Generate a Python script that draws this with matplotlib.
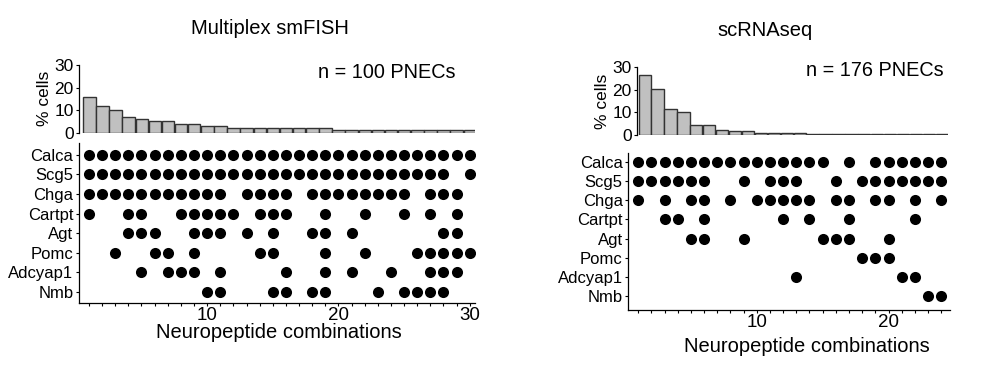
import numpy as np
import matplotlib
matplotlib.use("Agg")
import matplotlib.pyplot as plt
from matplotlib.ticker import MultipleLocator

plt.rcParams['font.family'] = ['Liberation Sans', 'DejaVu Sans']

# 공통: 뉴로펩타이드 이름 (위 -> 아래)
genes = ['Calca', 'Scg5', 'Chga', 'Cartpt', 'Agt', 'Pomc', 'Adcyap1', 'Nmb']

# ── Multiplex smFISH (n = 100) ──
fish_pct = [16, 12, 10, 7, 6, 5, 5, 4, 4, 3, 3, 2, 2, 2, 2, 2, 2, 2, 2,
            1, 1, 1, 1, 1, 1, 1, 1, 1, 1, 1]
fish_members = {
    'Calca': [1, 2, 3, 4, 5, 6, 7, 8, 9, 10, 11, 12, 13, 14, 15, 16, 17, 18, 19, 20,
              21, 22, 23, 24, 25, 26, 27, 28, 29, 30],
    'Scg5': [1, 2, 3, 4, 5, 6, 7, 8, 9, 10, 11, 12, 13, 14, 15, 16, 17, 18, 19, 20,
             21, 22, 23, 24, 25, 26, 27, 28, 30],
    'Chga': [1, 2, 3, 4, 5, 6, 7, 8, 9, 10, 11, 13, 14, 15, 16, 18, 19, 20, 21, 22,
             23, 24, 25, 27, 28, 29],
    'Cartpt': [1, 4, 5, 8, 9, 10, 11, 12, 14, 15, 16, 19, 22, 25, 27, 29],
    'Agt': [4, 5, 6, 9, 10, 11, 13, 15, 18, 19, 21, 28, 29],
    'Pomc': [3, 6, 7, 9, 14, 15, 19, 22, 26, 27, 28, 29, 30],
    'Adcyap1': [5, 7, 8, 9, 11, 16, 19, 21, 24, 27, 28, 29],
    'Nmb': [10, 11, 15, 16, 18, 19, 23, 25, 26, 27, 28],
}

# ── scRNAseq (n = 176) ──
sc_pct = [26.7, 20.5, 11.4, 10.2, 4.5, 4.5, 2.3, 1.7, 1.7, 1.1, 1.1, 1.1, 1.1,
          0.57, 0.57, 0.57, 0.57, 0.57, 0.57, 0.57, 0.57, 0.57, 0.57, 0.57]
sc_members = {
    'Calca': [1, 2, 3, 4, 5, 6, 7, 8, 9, 10, 11, 12, 13, 14, 15, 17, 19, 20, 21, 22, 23, 24],
    'Scg5': [1, 2, 3, 4, 5, 6, 9, 11, 12, 13, 16, 18, 19, 20, 21, 22, 23, 24],
    'Chga': [1, 3, 5, 6, 8, 10, 11, 12, 13, 14, 16, 17, 19, 20, 22, 24],
    'Cartpt': [3, 4, 6, 12, 14, 17, 22],
    'Agt': [5, 6, 9, 15, 16, 17, 20],
    'Pomc': [18, 19, 20],
    'Adcyap1': [13, 21, 22],
    'Nmb': [23, 24],
}

BAR_FACE = '#c0c0c0'
BAR_EDGE = '#333333'
W, H = 999, 369


def fig_rect(x0, y0, x1, y1):
    """픽셀 좌표(위가 0) -> figure 비율 [left, bottom, width, height]"""
    return [x0 / W, 1 - y1 / H, (x1 - x0) / W, (y1 - y0) / H]


def style_axis(ax):
    for s in ['top', 'right']:
        ax.spines[s].set_visible(False)
    for s in ['left', 'bottom']:
        ax.spines[s].set_linewidth(0.9)
    ax.tick_params(direction='out', length=2.5, width=0.8, pad=1.5)


def draw_bars(ax, pct, xlim):
    x = np.arange(1, len(pct) + 1)
    ax.bar(x, pct, width=0.95, color=BAR_FACE, edgecolor=BAR_EDGE, linewidth=1.0)
    style_axis(ax)
    ax.spines['bottom'].set_visible(False)
    ax.set_xlim(*xlim)
    ax.set_ylim(0, 30)
    ax.set_yticks([0, 10, 20, 30])
    ax.set_xticks([])
    ax.tick_params(axis='y', labelsize=12.5)
    ax.set_ylabel('% cells', fontsize=12.5, labelpad=2)


def draw_matrix(ax, members, xlim, ylim, major):
    n = len(genes)
    for i, g in enumerate(genes):
        cols = members[g]
        ax.plot(cols, [n - i] * len(cols), 'o', color='black',
                markersize=8.0, markeredgewidth=0)
    style_axis(ax)
    ax.set_xlim(*xlim)
    ax.set_ylim(*ylim)
    ax.set_yticks(np.arange(n, 0, -1))
    ax.set_yticklabels(genes, fontsize=12)
    ax.set_xticks(major)
    ax.set_xticklabels([str(m) for m in major], fontsize=13.5)
    ax.xaxis.set_minor_locator(MultipleLocator(1))
    ax.tick_params(axis='x', which='both', length=2.5, width=0.8, pad=0.5)


fig = plt.figure(figsize=(9.99, 3.69), dpi=100)

# 왼쪽 패널
ax_lb = fig.add_axes(fig_rect(79.3, 65, 475, 132.7))
draw_bars(ax_lb, fish_pct, (0.24, 30.4))
ax_lm = fig.add_axes(fig_rect(79.0, 143, 475, 302.7))
draw_matrix(ax_lm, fish_members, (0.24, 30.4), (0.437, 8.61), [10, 20, 30])

# 오른쪽 패널
ax_rb = fig.add_axes(fig_rect(637.3, 67.3, 948.3, 135))
draw_bars(ax_rb, sc_pct, (0.43, 24.5))
ax_rm = fig.add_axes(fig_rect(628.3, 153.3, 950, 310))
draw_matrix(ax_rm, sc_members, (0.24, 24.67), (0.25, 8.47), [10, 20])

# 텍스트
fig.text(270 / W, 1 - 28 / H, 'Multiplex smFISH', fontsize=14.5, ha='center', va='center')
fig.text(765 / W, 1 - 30 / H, 'scRNAseq', fontsize=14.5, ha='center', va='center')
fig.text(318 / W, 1 - 72 / H, 'n = 100 PNECs', fontsize=14.3, ha='left', va='center')
fig.text(806 / W, 1 - 70 / H, 'n = 176 PNECs', fontsize=14.3, ha='left', va='center')
fig.text(279 / W, 1 - 333 / H, 'Neuropeptide combinations', fontsize=14.5, ha='center', va='center')
fig.text(807 / W, 1 - 346 / H, 'Neuropeptide combinations', fontsize=14.5, ha='center', va='center')

plt.savefig('out.png', dpi=100)
plt.close()
